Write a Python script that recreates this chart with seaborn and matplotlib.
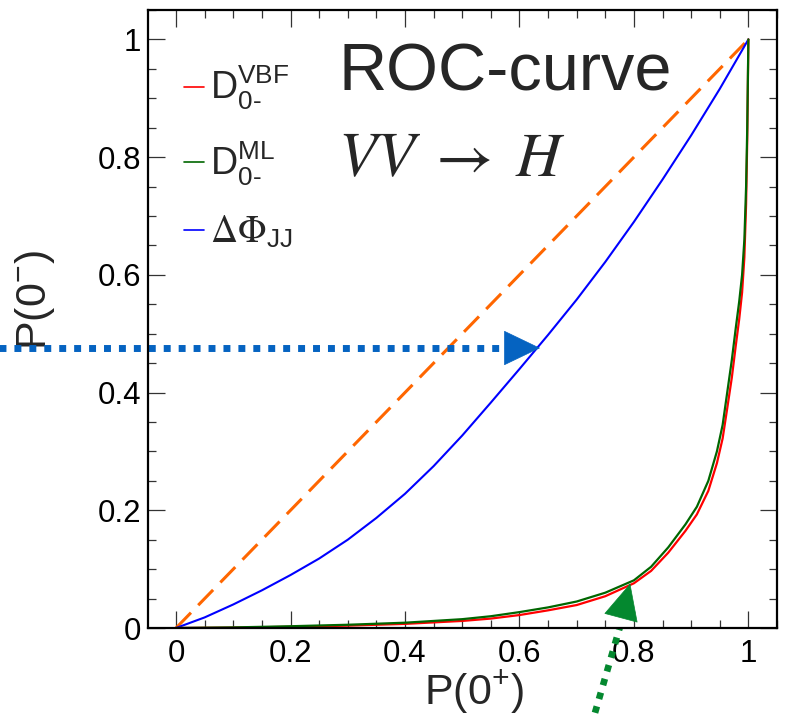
import numpy as np
import pandas as pd
import matplotlib
matplotlib.use("Agg")
import matplotlib.pyplot as plt
from matplotlib.ticker import MultipleLocator, FuncFormatter
import seaborn as sns

# ---------------- data ----------------
diag_x = [0.0, 1.0]
diag_y = [0.0, 1.0]

dphi_x = [0.0, 0.05, 0.10, 0.15, 0.20, 0.25, 0.30, 0.35, 0.40, 0.45, 0.50,
          0.55, 0.60, 0.65, 0.70, 0.75, 0.80, 0.85, 0.90, 0.95, 1.0]
dphi_y = [0.0, 0.018, 0.040, 0.064, 0.090, 0.118, 0.150, 0.187, 0.228, 0.275, 0.327,
          0.383, 0.440, 0.498, 0.558, 0.622, 0.690, 0.762, 0.837, 0.916, 1.0]

steep_x = [0.0, 0.10, 0.20, 0.30, 0.40, 0.50, 0.55, 0.60, 0.65, 0.70, 0.75,
           0.80, 0.83, 0.86, 0.89, 0.91, 0.93, 0.945, 0.955, 0.963, 0.971,
           0.978, 0.984, 0.989, 0.993, 0.996, 0.998, 1.0]
ml_y = [0.0, 0.001, 0.003, 0.0055, 0.009, 0.015, 0.020, 0.027, 0.035, 0.045, 0.060,
        0.081, 0.104, 0.137, 0.176, 0.206, 0.250, 0.300, 0.345, 0.400, 0.455,
        0.510, 0.555, 0.600, 0.660, 0.750, 0.850, 1.0]
vbf_y = [0.0, 0.0007, 0.002, 0.004, 0.007, 0.012, 0.016, 0.022, 0.030, 0.039, 0.054,
         0.076, 0.097, 0.128, 0.165, 0.193, 0.233, 0.280, 0.322, 0.373, 0.425,
         0.480, 0.525, 0.570, 0.630, 0.720, 0.830, 1.0]

labels = [r"$\mathrm{D}_{\mathrm{0\text{-}}}^{\mathrm{VBF}}$",
          r"$\mathrm{D}_{\mathrm{0\text{-}}}^{\mathrm{ML}}$",
          r"$\Delta\Phi_{\mathregular{JJ}}$"]
tick_vals = [0.0, 0.2, 0.4, 0.6, 0.8, 1.0]

# ---------------- style ----------------
sns.set_style("ticks")
plt.rcParams["font.family"] = ["Liberation Sans", "DejaVu Sans"]
plt.rcParams["mathtext.fontset"] = "custom"
plt.rcParams["mathtext.rm"] = "Liberation Sans"
plt.rcParams["mathtext.it"] = "Liberation Sans:italic"
plt.rcParams["mathtext.bf"] = "Liberation Sans:bold"
plt.rcParams["mathtext.sf"] = "Liberation Sans"

C_RED = "#FF0000"
C_GREEN = "#006600"
C_BLUE = "#0000FF"
C_ORANGE = "#FF6600"

fig = plt.figure(figsize=(7.9, 7.15), dpi=100)
ax = fig.add_axes([148 / 790, 1 - 628 / 715, 629 / 790, 618 / 715])

df_diag = pd.DataFrame({"x": diag_x, "y": diag_y})
df_dphi = pd.DataFrame({"x": dphi_x, "y": dphi_y})
df_vbf = pd.DataFrame({"x": steep_x, "y": vbf_y})
df_ml = pd.DataFrame({"x": steep_x, "y": ml_y})

sns.lineplot(data=df_diag, x="x", y="y", ax=ax, color=C_ORANGE, lw=2.2,
             sort=False, estimator=None)
ax.lines[-1].set_dashes([7, 3.4])
sns.lineplot(data=df_dphi, x="x", y="y", ax=ax, color=C_BLUE, lw=1.5,
             sort=False, estimator=None)
l_blue = ax.lines[-1]
sns.lineplot(data=df_vbf, x="x", y="y", ax=ax, color=C_RED, lw=1.6,
             sort=False, estimator=None)
l_red = ax.lines[-1]
sns.lineplot(data=df_ml, x="x", y="y", ax=ax, color=C_GREEN, lw=1.6,
             sort=False, estimator=None)
l_green = ax.lines[-1]
for ln in ax.lines:
    ln.set_solid_joinstyle("round")

ax.set_xlim(-0.049, 1.05)
ax.set_ylim(0.0, 1.05)

ax.xaxis.set_major_locator(MultipleLocator(0.2))
ax.xaxis.set_minor_locator(MultipleLocator(0.05))
ax.yaxis.set_major_locator(MultipleLocator(0.2))
ax.yaxis.set_minor_locator(MultipleLocator(0.05))
fmt = FuncFormatter(lambda v, p: f"{v:g}" if v >= -1e-9 else "")
ax.xaxis.set_major_formatter(fmt)
ax.yaxis.set_major_formatter(fmt)
ax.set_xticks(tick_vals)
ax.set_yticks(tick_vals)

ax.tick_params(which="both", direction="in", top=True, right=True,
               colors="#333333", labelcolor="black", width=0.9)
ax.tick_params(which="major", length=12.5, labelsize=22.5)
ax.tick_params(which="minor", length=6)
ax.tick_params(axis="x", which="major", pad=8)
ax.tick_params(axis="y", which="major", pad=5)
for s in ax.spines.values():
    s.set_linewidth(1.6)
    s.set_color("black")
    s.set_visible(True)

ax.set_xlabel(r"P(0$^{+}$)", fontsize=31)
ax.set_ylabel(r"P(0$^{-}$)", fontsize=31)
ax.xaxis.set_label_coords(0.518, -0.066)
ax.yaxis.set_label_coords(-0.145, 0.53)

# legend
leg = ax.legend(handles=[l_red, l_green, l_blue], labels=labels,
                loc="upper left", bbox_to_anchor=(0.057, 0.912),
                frameon=False, fontsize=27, handlelength=0.55,
                handletextpad=0.15, labelspacing=0.72, borderpad=0,
                borderaxespad=0)
for h in leg.get_lines():
    h.set_linewidth(1.2)
leg.get_texts()[2].set_math_fontfamily("stix")

# texts
ax.text(0.283, 0.913, "ROC-curve", fontsize=48, ha="left", va="baseline")
ax.text(0.283, 0.767, r"$VV\;\rightarrow\;H$", fontsize=45, ha="left",
        va="baseline", math_fontfamily="stix")

# arrows (annotations)
C_ARB = "#0563C1"
C_ARG = "#04882F"
ax.plot([-0.31, 0.576], [0.4757, 0.4757], color=C_ARB, lw=5,
        linestyle=(0, (1, 1.15)), clip_on=False)
ax.annotate("", xy=(0.636, 0.4757), xytext=(0.575, 0.4757),
            arrowprops=dict(arrowstyle="-|>,head_length=25,head_width=12",
                            mutation_scale=1, color=C_ARB, lw=0.5,
                            shrinkA=0, shrinkB=0),
            annotation_clip=False)
ax.plot([0.732, 0.775], [-0.144, 0.0], color=C_ARG, lw=4.8,
        linestyle=(0, (1, 1.15)), clip_on=False)
ax.annotate("", xy=(0.7935, 0.0757), xytext=(0.7776, 0.0179),
            arrowprops=dict(arrowstyle="-|>,head_length=25,head_width=12",
                            mutation_scale=1, color=C_ARG, lw=0.5,
                            shrinkA=0, shrinkB=0),
            annotation_clip=False)

fig.savefig("out.png", dpi=100)
